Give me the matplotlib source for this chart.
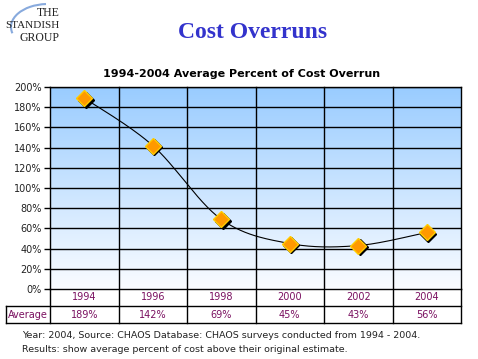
import numpy as np
import matplotlib
matplotlib.use("Agg")
import matplotlib.pyplot as plt
import matplotlib.transforms as mtransforms
from matplotlib.patches import Arc

years = ["1994", "1996", "1998", "2000", "2002", "2004"]
overrun = [189, 142, 69, 45, 43, 56]
avg_labels = ["189%", "142%", "69%", "45%", "43%", "56%"]
yticks = [0, 20, 40, 60, 80, 100, 120, 140, 160, 180, 200]

W, H = 478, 359
fig = plt.figure(figsize=(W / 100, H / 100), dpi=100)
fig.patch.set_facecolor("white")

# plot area in pixels
left, right, top, bottom = 50, 461, 87, 289
ax = fig.add_axes([left / W, 1 - bottom / H, (right - left) / W, (bottom - top) / H])
ax.set_xlim(-0.5, 5.5)
ax.set_ylim(0, 200)

# gradient background
grad = np.linspace(0, 1, 256).reshape(-1, 1)
top_c = np.array([153, 204, 255]) / 255
bot_c = np.array([250, 252, 255]) / 255
img = top_c * (1 - grad[..., None]) + bot_c * grad[..., None]
img = np.repeat(img, 2, axis=1)
ax.imshow(img, extent=[-0.5, 5.5, 0, 200], aspect="auto", zorder=0)

for y in yticks[1:]:
    ax.axhline(y, color="black", lw=1, zorder=1)
for i in range(len(years) - 1):
    ax.plot([i + 0.5, i + 0.5], [200, -34 / 202 * 200], color="black", lw=1,
            zorder=1, clip_on=False)

# smoothed line (Catmull-Rom through data points)
x = np.arange(len(overrun), dtype=float)
y = np.array(overrun, dtype=float)
px = np.concatenate([[x[0]], x, [x[-1]]])
py = np.concatenate([[y[0]], y, [y[-1]]])
cx, cy = [], []
t = np.linspace(0, 1, 30)
for i in range(1, len(px) - 2):
    p0, p1, p2, p3 = [np.array([px[j], py[j]]) for j in range(i - 1, i + 3)]
    seg = 0.5 * ((2 * p1)[:, None] + (-p0 + p2)[:, None] * t
                 + (2 * p0 - 5 * p1 + 4 * p2 - p3)[:, None] * t ** 2
                 + (-p0 + 3 * p1 - 3 * p2 + p3)[:, None] * t ** 3)
    cx.extend(seg[0]); cy.extend(seg[1])
ax.plot(cx, cy, color="black", lw=0.8, zorder=2)

shadow = mtransforms.offset_copy(ax.transData, fig=fig, x=1.5, y=-1.5, units="dots")
ax.plot(x, y, "D", color="black", markersize=8, transform=shadow, zorder=3, clip_on=False)
ax.plot(x, y, "D", color="#ff9900", markeredgecolor="#ffcc00", markeredgewidth=1,
        markersize=8, zorder=4, clip_on=False)

for s in ax.spines.values():
    s.set_color("black")
    s.set_linewidth(1)
ax.set_yticks(yticks)
ax.set_yticklabels([f"{v}%" for v in yticks], fontsize=7, color="#222222")
ax.set_xticks([])
ax.tick_params(axis="y", length=4, width=1, color="black", pad=2)

# data table below
tc = "#7a1060"
row1 = -17 / 202 * 200
row2 = -34 / 202 * 200
for i in range(len(years)):
    ax.text(i, row1 / 2, years[i], ha="center", va="center", fontsize=7, color=tc)
    ax.text(i, (row1 + row2) / 2, avg_labels[i], ha="center", va="center", fontsize=7, color=tc)
lx0 = -0.5 - 44 / 411 * 6
ax.plot([lx0, 5.5], [row1, row1], color="black", lw=1, clip_on=False)
ax.plot([lx0, 5.5], [row2, row2], color="black", lw=1, clip_on=False)
ax.plot([lx0, lx0], [row1, row2], color="black", lw=1, clip_on=False)
ax.plot([5.5, 5.5], [0, row2], color="black", lw=1, clip_on=False)
ax.plot([-0.5, -0.5], [0, row2], color="black", lw=1, clip_on=False)
ax.text((lx0 - 0.5) / 2, (row1 + row2) / 2, "Average", ha="center", va="center",
        fontsize=7, color=tc)

# titles
fig.text(253 / W, 1 - 32 / H, "Cost Overruns", ha="center", va="center",
         fontsize=17, fontweight="bold", family="Liberation Serif", color="#3333cc")
fig.text(242 / W, 1 - 74 / H, "1994-2004 Average Percent of Cost Overrun", ha="center",
         va="center", fontsize=8, fontweight="bold", color="black")

# logo
logo_ax = fig.add_axes([0, 1 - 50 / H, 80 / W, 50 / H])
logo_ax.set_xlim(0, 80); logo_ax.set_ylim(50, 0); logo_ax.axis("off")
logo_ax.add_patch(Arc((48, 27), 74, 46, theta1=170, theta2=265, color="#88aadd", lw=1.5))
logo_ax.text(60, 13, "THE", ha="right", va="center", fontsize=8.5,
             family="Liberation Serif", color="#222222")
logo_ax.text(60, 25.5, "STANDISH", ha="right", va="center", fontsize=8,
             family="Liberation Serif", color="#222222")
logo_ax.text(60, 38, "GROUP", ha="right", va="center", fontsize=8.5,
             family="Liberation Serif", color="#222222")

# footnote
fig.text(22 / W, 1 - 336 / H,
         "Year: 2004, Source: CHAOS Database: CHAOS surveys conducted from 1994 - 2004.",
         ha="left", va="center", fontsize=6.8, color="#222222")
fig.text(22 / W, 1 - 350 / H,
         "Results: show average percent of cost above their original estimate.",
         ha="left", va="center", fontsize=6.8, color="#222222")

fig.savefig("out.png", dpi=100)
